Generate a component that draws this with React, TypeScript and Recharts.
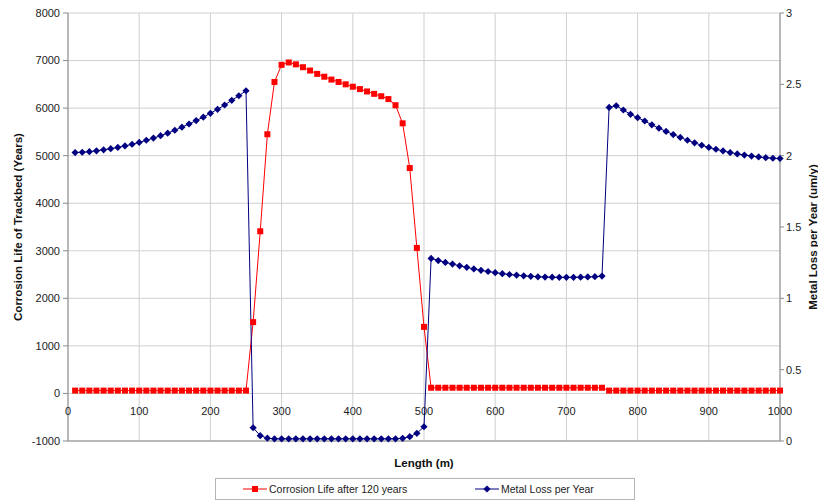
import React from 'react';
import { ComposedChart, Line, XAxis, YAxis, CartesianGrid, Legend } from 'recharts';

const lengths = [
  10, 20, 30, 40, 50, 60, 70, 80, 90, 100,
  110, 120, 130, 140, 150, 160, 170, 180, 190, 200,
  210, 220, 230, 240, 250, 260, 270, 280, 290, 300,
  310, 320, 330, 340, 350, 360, 370, 380, 390, 400,
  410, 420, 430, 440, 450, 460, 470, 480, 490, 500,
  510, 520, 530, 540, 550, 560, 570, 580, 590, 600,
  610, 620, 630, 640, 650, 660, 670, 680, 690, 700,
  710, 720, 730, 740, 750, 760, 770, 780, 790, 800,
  810, 820, 830, 840, 850, 860, 870, 880, 890, 900,
  910, 920, 930, 940, 950, 960, 970, 980, 990, 1000,
];

const corrosionLife = [
  60, 60, 60, 60, 60, 60, 60, 60, 60, 60,
  60, 60, 60, 60, 60, 60, 60, 60, 60, 60,
  60, 60, 60, 60, 60, 1500, 3410, 5450, 6550, 6910,
  6960, 6920, 6860, 6790, 6720, 6660, 6600, 6550, 6500, 6450,
  6400, 6350, 6300, 6250, 6190, 6060, 5680, 4740, 3060, 1400,
  120, 120, 120, 120, 120, 120, 120, 120, 120, 120,
  120, 120, 120, 120, 120, 120, 120, 120, 120, 120,
  120, 120, 120, 120, 120, 60, 60, 60, 60, 60,
  60, 60, 60, 60, 60, 60, 60, 60, 60, 60,
  60, 60, 60, 60, 60, 60, 60, 60, 60, 60,
];

const metalLoss = [
  2.022, 2.024, 2.028, 2.034, 2.041, 2.049, 2.058, 2.068, 2.08, 2.093,
  2.108, 2.123, 2.14, 2.158, 2.178, 2.2, 2.222, 2.246, 2.27, 2.297,
  2.325, 2.355, 2.388, 2.42, 2.455, 0.093, 0.037, 0.02, 0.015, 0.015,
  0.015, 0.015, 0.015, 0.015, 0.015, 0.015, 0.015, 0.015, 0.015, 0.015,
  0.015, 0.015, 0.015, 0.015, 0.015, 0.015, 0.019, 0.03, 0.054, 0.1,
  1.28, 1.265, 1.252, 1.24, 1.228, 1.217, 1.206, 1.196, 1.188, 1.18,
  1.173, 1.167, 1.162, 1.158, 1.154, 1.151, 1.149, 1.148, 1.147, 1.147,
  1.147, 1.148, 1.15, 1.152, 1.156, 2.338, 2.35, 2.32, 2.29, 2.266,
  2.243, 2.216, 2.193, 2.17, 2.148, 2.128, 2.108, 2.09, 2.073, 2.058,
  2.045, 2.033, 2.022, 2.012, 2.004, 1.997, 1.991, 1.986, 1.982, 1.98,
];

const xTicks = [0, 100, 200, 300, 400, 500, 600, 700, 800, 900, 1000];
const leftTicks = [-1000, 0, 1000, 2000, 3000, 4000, 5000, 6000, 7000, 8000];
const rightTicks = [0, 0.5, 1, 1.5, 2, 2.5, 3];
const seriesNames = ['Corrosion Life after 120 years', 'Metal Loss per Year'];
const axisTitles = {
  x: 'Length (m)',
  left: 'Corrosion Life of Trackbed (Years)',
  right: 'Metal Loss per Year (um/y)',
};

const data = lengths.map((x, i) => ({ x, life: corrosionLife[i], loss: metalLoss[i] }));

const RED = '#ff0000';
const NAVY = '#000080';
const FONT = '"Liberation Sans", Arial, sans-serif';

const SquareDot = (props: any) => {
  const { cx, cy, index } = props;
  if (cx == null || cy == null) return <g key={`s${index}`} />;
  return <rect key={`s${index}`} x={cx - 3} y={cy - 3} width={6} height={6} fill={RED} />;
};

const DiamondDot = (props: any) => {
  const { cx, cy, index } = props;
  if (cx == null || cy == null) return <g key={`d${index}`} />;
  const r = 3.6;
  return (
    <polygon
      key={`d${index}`}
      points={`${cx},${cy - r} ${cx + r},${cy} ${cx},${cy + r} ${cx - r},${cy}`}
      fill={NAVY}
    />
  );
};

const XTick = (props: any) => {
  const { x, y, payload } = props;
  return (
    <text x={x} y={y - 30} textAnchor="middle" dominantBaseline="central" fontSize={11} fill="#222" fontFamily={FONT}>
      {payload.value}
    </text>
  );
};

const LegendBox = () => (
  <svg width={420} height={22} style={{ display: 'block', overflow: 'visible' }}>
    <rect x={0.5} y={0.5} width={419} height={21} fill="#fff" stroke="#b4b4b4" />
    <line x1={28} x2={52} y1={11} y2={11} stroke={RED} strokeWidth={1} />
    <rect x={37} y={8} width={6} height={6} fill={RED} />
    <text x={54} y={11} dominantBaseline="central" fontSize={10.5} fill="#222" fontFamily={FONT}>
      {seriesNames[0]}
    </text>
    <line x1={260} x2={284} y1={11} y2={11} stroke={NAVY} strokeWidth={1} />
    <polygon points="272,7.4 275.6,11 272,14.6 268.4,11" fill={NAVY} />
    <text x={286} y={11} dominantBaseline="central" fontSize={10.5} fill="#222" fontFamily={FONT}>
      {seriesNames[1]}
    </text>
  </svg>
);

export default function App() {
  return (
    <div style={{ position: 'absolute', left: 0, top: 0, width: 818, height: 501, background: '#fff', fontFamily: FONT }}>
      <ComposedChart width={818} height={501} data={data} margin={{ top: 13, right: 0, bottom: 30, left: 0 }}>
        <CartesianGrid yAxisId="left" stroke="#cfcfcf" strokeWidth={1} />
        <XAxis
          dataKey="x"
          type="number"
          domain={[0, 1000]}
          ticks={xTicks}
          interval={0}
          height={30}
          tickLine={false}
          tickSize={0}
          tickMargin={0}
          axisLine={{ stroke: '#8a8a8a' }}
          tick={<XTick />}
          label={{
            content: (p: any) => {
              const vb = p.viewBox || { x: 68, y: 441, width: 712, height: 30 };
              return (
                <text x={vb.x + vb.width / 2} y={vb.y + 22} textAnchor="middle" dominantBaseline="central" fontSize={11.5} fontWeight="bold" fill="#111" fontFamily={FONT}>
                  {axisTitles.x}
                </text>
              );
            },
          }}
        />
        <YAxis
          yAxisId="left"
          domain={[-1000, 8000]}
          ticks={leftTicks}
          interval={0}
          width={68}
          tickSize={5}
          tickMargin={3}
          tick={{ fontSize: 11, fill: '#222' }}
          axisLine={{ stroke: '#8a8a8a' }}
          tickLine={{ stroke: '#8a8a8a' }}
          label={{
            content: (p: any) => {
              const vb = p.viewBox || { x: 0, y: 13, width: 68, height: 428 };
              const cx = vb.x + 18;
              const cy = vb.y + vb.height / 2;
              return (
                <text x={cx} y={cy} transform={`rotate(-90 ${cx} ${cy})`} textAnchor="middle" dominantBaseline="central" fontSize={11.5} fontWeight="bold" fill="#111" fontFamily={FONT}>
                  {axisTitles.left}
                </text>
              );
            },
          }}
        />
        <YAxis
          yAxisId="right"
          orientation="right"
          domain={[0, 3]}
          ticks={rightTicks}
          interval={0}
          width={38}
          tickSize={4}
          tickMargin={2}
          tick={{ fontSize: 11, fill: '#222' }}
          axisLine={{ stroke: '#8a8a8a' }}
          tickLine={{ stroke: '#8a8a8a' }}
          label={{
            content: (p: any) => {
              const vb = p.viewBox || { x: 780, y: 13, width: 38, height: 428 };
              const cx = vb.x + 33;
              const cy = vb.y + vb.height / 2 + 10;
              return (
                <text x={cx} y={cy} transform={`rotate(-90 ${cx} ${cy})`} textAnchor="middle" dominantBaseline="central" fontSize={11.5} fontWeight="bold" fill="#111" fontFamily={FONT}>
                  {axisTitles.right}
                </text>
              );
            },
          }}
        />
        <Line
          yAxisId="left"
          dataKey="life"
          name={seriesNames[0]}
          type="linear"
          stroke={RED}
          strokeWidth={1}
          dot={SquareDot}
          activeDot={false}
          isAnimationActive={false}
        />
        <Line
          yAxisId="right"
          dataKey="loss"
          name={seriesNames[1]}
          type="linear"
          stroke={NAVY}
          strokeWidth={1}
          dot={DiamondDot}
          activeDot={false}
          isAnimationActive={false}
        />
        <Legend
          layout="horizontal"
          verticalAlign="middle"
          align="center"
          wrapperStyle={{ left: 215, top: 478, width: 420, height: 22 }}
          content={() => <LegendBox />}
        />
      </ComposedChart>
    </div>
  );
}
